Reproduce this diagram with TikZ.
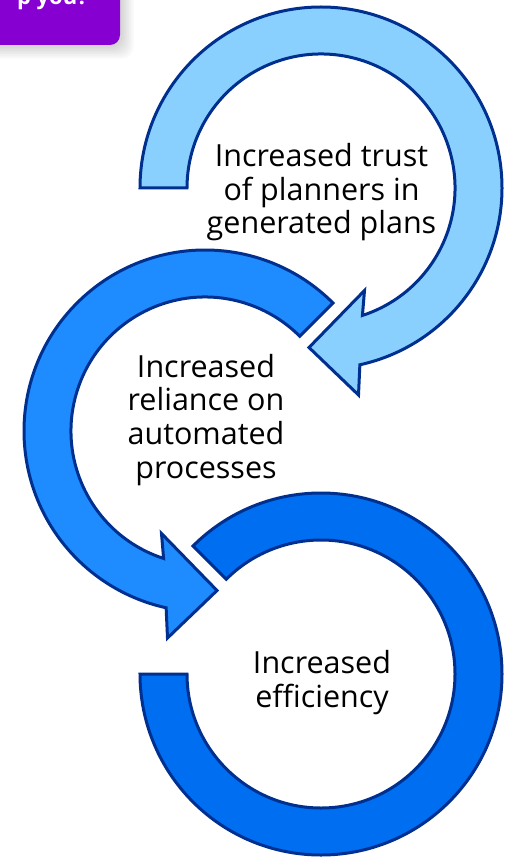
\documentclass[tikz,border=0pt]{standalone}
\usepackage{fontspec}
\setmainfont{Open Sans}
\usetikzlibrary{calc}
\definecolor{navy}{HTML}{00308F}
\definecolor{ringA}{HTML}{8AD0FF}
\definecolor{ringB}{HTML}{1E8CFF}
\definecolor{ringC}{HTML}{006EF0}
\definecolor{btn}{HTML}{8600D2}
\begin{document}
\begin{tikzpicture}[x=1pt,y=1pt,
  ring/.style={draw=navy, line width=3pt, line join=miter},
  ringtext/.style={align=center, font=\fontsize{30.5}{33.6}\selectfont, text=black, inner sep=0pt},
  btntext/.style={font=\fontsize{22}{26}\selectfont\bfseries, text=white, inner sep=0pt}]
\useasboundingbox (0,0) rectangle (513,-858);
\fill[white] (0,0) rectangle (513,-858);
\coordinate (c1) at (321,-188);
\coordinate (c2) at (205,-431);
\coordinate (c3) at (321,-674);

% button with soft shadow
\begin{scope}
\clip (0,0) rectangle (513,-858);
\foreach \i in {1,...,8}
  \fill[black, opacity=0.018, rounded corners=12] (-20,20) rectangle (121+\i*1.6, -46-\i*1.6);
\fill[btn, rounded corners=10] (-20,20) rectangle (120,-45);
\node[btntext, anchor=base east] (bt) at (88,-5) {p you?};
\end{scope}

% ring 3
\draw[ring, fill=ringC] ($(c3)+(135:181)$) arc[start angle=135, end angle=-180, radius=181]
  -- ($(c3)+(180:134)$) arc[start angle=-180, end angle=135, radius=134] -- cycle;
% ring 2
\draw[ring, fill=ringB] ($(c2)+(45:181)$) arc[start angle=45, end angle=257.6, radius=181]
  -- ($(c2)+(-37.5,-207)$) -- ($(c2)+(12,-159.5)$) -- ($(c2)+(-43.5,-102.5)$)
  -- ($(c2)+(252:134)$) arc[start angle=252, end angle=45, radius=134] -- cycle;
% ring 1
\draw[ring, fill=ringA] ($(c1)+(180:181)$) arc[start angle=180, end angle=-77.6, radius=181]
  -- ($(c1)+(37.5,-207)$) -- ($(c1)+(-12,-159.5)$) -- ($(c1)+(43.5,-102.5)$)
  -- ($(c1)+(-72:134)$) arc[start angle=-72, end angle=180, radius=134] -- cycle;

\node[ringtext, anchor=base] (t1) at (321.5,-234) {Increased trust\\of planners in\\generated plans};
\node[ringtext, anchor=base] (t2) at (206,-478) {Increased\\reliance on\\automated\\processes};
\node[ringtext, anchor=base] (t3) at (322,-707) {Increased\\efficiency};
\end{tikzpicture}
\end{document}
